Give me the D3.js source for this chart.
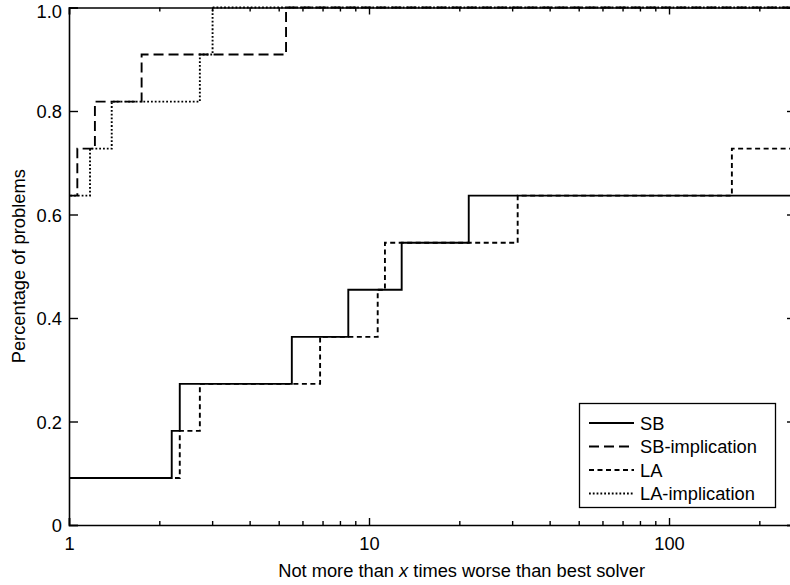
<!DOCTYPE html>
<html>
<head>
<meta charset="utf-8">
<script src="https://cdn.jsdelivr.net/npm/d3@7"></script>
<style>
  body { margin: 0; background: #fff; }
  svg { display: block; font-family: "Liberation Sans", Arial, sans-serif; }
</style>
</head>
<body>
<svg id="chart"></svg>
<script>
// performance profile: ratio where each step happens, share of problems after it
const sbRatio = [1, 2.20, 2.34, 5.53, 8.53, 12.85, 21.5]
const sbShare = [0.0909, 0.1818, 0.2727, 0.3636, 0.4545, 0.5455, 0.6364]

const sbImpRatio = [1, 1.066, 1.22, 1.746, 5.29]
const sbImpShare = [0.6364, 0.7273, 0.8182, 0.9091, 1.0]

const laRatio = [1, 2.34, 2.73, 6.87, 10.69, 11.3, 31.3, 162]
const laShare = [0.0909, 0.1818, 0.2727, 0.3636, 0.4545, 0.5455, 0.6364, 0.7273]

const laImpRatio = [1, 1.175, 1.388, 2.73, 3.01]
const laImpShare = [0.6364, 0.7273, 0.8182, 0.9091, 1.0]

const seriesNames = ["SB", "SB-implication", "LA", "LA-implication"]
const yTicks = [0, 0.2, 0.4, 0.6, 0.8, 1.0]
const xMajor = [1, 10, 100]

const
    margin = { top: 7.5, right: -6, bottom: 60, left: 69 },
    width = 790,
    height = 585,
    fontSize = 18.3

const xMax = 265

const x = d3.scaleLog()
    .domain([1, xMax])
    .range([margin.left, width - margin.right])

const y = d3.scaleLinear()
    .domain([0, 1])
    .range([height - margin.bottom, margin.top])

const svg = d3.select("#chart")
    .attr("width", width)
    .attr("height", height)

// all log ticks 1..9, 10..90, 100, 200
const xTickVals = []
for (let p = 1; p <= 100; p *= 10)
    for (let k = 1; k <= 9; k++)
        if (k * p <= xMax) xTickVals.push(k * p)

const isMajor = v => xMajor.includes(v)

svg.append("defs").append("clipPath").attr("id", "plot")
    .append("rect")
    .attr("x", x(1)).attr("y", y(1) - 2)
    .attr("width", x(xMax) - x(1)).attr("height", y(0) - y(1) + 4)

const series = [
    { ratio: sbRatio, share: sbShare, dash: null },
    { ratio: sbImpRatio, share: sbImpShare, dash: "10,5" },
    { ratio: laRatio, share: laShare, dash: "5,3.5" },
    { ratio: laImpRatio, share: laImpShare, dash: "1.8,2" }
]

const line = d3.line()
    .x(d => x(d[0]))
    .y(d => y(d[1]))
    .curve(d3.curveStepAfter)

const lines = svg.append("g").attr("clip-path", "url(#plot)")

series.forEach(s => {
    const pts = [[1, 0]]
    s.ratio.forEach((r, i) => pts.push([r, s.share[i]]))
    pts.push([xMax, s.share[s.share.length - 1]])
    lines.append("path")
        .datum(pts)
        .attr("fill", "none")
        .attr("stroke", "#000")
        .attr("stroke-width", 1.9)
        .attr("stroke-dasharray", s.dash)
        .attr("d", line)
})

// axes (ticks pointing inward)
const xAxis = g => g
    .attr("transform", `translate(0,${y(0)})`)
    .call(d3.axisBottom(x).tickValues(xTickVals).tickSize(-7).tickPadding(12)
        .tickFormat(d => isMajor(d) ? d : ""))

const xAxisTop = g => g
    .attr("transform", `translate(0,${y(1)})`)
    .call(d3.axisTop(x).tickValues(xTickVals).tickSize(-7).tickFormat(""))

const yAxis = g => g
    .attr("transform", `translate(${x(1)},0)`)
    .call(d3.axisLeft(y).tickValues(yTicks).tickSize(-9).tickPadding(7)
        .tickFormat(d => d === 0 ? "0" : d3.format(".1f")(d)))

const yAxisRight = g => g
    .attr("transform", `translate(${x(xMax)},0)`)
    .call(d3.axisRight(y).tickValues(yTicks).tickSize(-9).tickFormat(""))

const styleAxis = g => {
    g.select(".domain").attr("stroke", "#000").attr("stroke-width", 1.6)
    g.selectAll(".tick line").attr("stroke", "#000").attr("stroke-width", 1.4)
    g.selectAll("text").attr("fill", "#000").attr("font-size", fontSize)
        .attr("font-family", "Liberation Sans, Arial, sans-serif")
}

const gx = svg.append("g").call(xAxis).call(styleAxis)
const gxt = svg.append("g").call(xAxisTop).call(styleAxis)
const gy = svg.append("g").call(yAxis).call(styleAxis)
svg.append("g").call(yAxisRight).call(styleAxis)

// y labels sit a hair below their ticks; top one pushed inside the page
gy.selectAll(".tick text").attr("dy", d => d === 1 ? "0.55em" : "0.38em")

// minor log ticks shorter
;[gx, gxt].forEach(g => g.selectAll(".tick")
    .filter(d => !isMajor(d))
    .select("line").attr("y2", g === gx ? -4 : 4))

// axis titles
const xt = svg.append("text")
    .attr("x", 645)
    .attr("y", 577)
    .attr("text-anchor", "end")
    .attr("font-size", fontSize)
xt.append("tspan").text("Not more than ")
xt.append("tspan").attr("font-style", "italic").text("x")
xt.append("tspan").text(" times worse than best solver")

svg.append("text")
    .attr("transform", `translate(25,${(y(0) + y(1)) / 2}) rotate(-90)`)
    .attr("text-anchor", "middle")
    .attr("font-size", fontSize)
    .text("Percentage of problems")

// legend
const legend = svg.append("g")
legend.append("rect")
    .attr("x", 579.5).attr("y", 403.5)
    .attr("width", 196).attr("height", 104)
    .attr("fill", "#fff").attr("stroke", "#000").attr("stroke-width", 1.3)

seriesNames.forEach((name, i) => {
    const ly = 423 + i * 23.5
    legend.append("line")
        .attr("x1", 589).attr("x2", 634)
        .attr("y1", ly).attr("y2", ly)
        .attr("stroke", "#000").attr("stroke-width", 1.9)
        .attr("stroke-dasharray", series[i].dash)
    legend.append("text")
        .attr("x", 640).attr("y", ly)
        .attr("dy", "0.36em")
        .attr("font-size", fontSize)
        .text(name)
})
</script>
</body>
</html>
